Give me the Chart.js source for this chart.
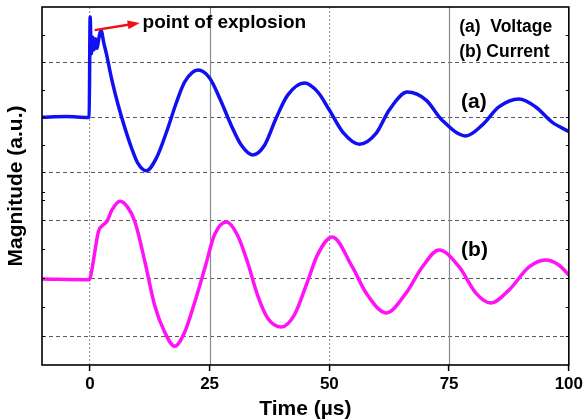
<!DOCTYPE html>
<html>
<head>
<meta charset="utf-8">
<script src="https://cdn.jsdelivr.net/npm/chart.js@4/dist/chart.umd.min.js"></script>
<style>
  html, body { margin: 0; padding: 0; background: #fff; }
  #wrap { width: 586px; height: 420px; }
</style>
</head>
<body>
<div id="wrap"><canvas id="chart"></canvas></div>
<script>
// time axis (µs) and trace values (a.u.)
const timeA = [-10, -5, -0.4, -0.15, 0.05, 0.3, 0.6, 0.9, 1.2, 1.5, 1.8, 2.3, 2.9, 3.5, 4.5, 5.9, 7.3, 8.7, 10.0, 11.8,
  13.9, 16.0, 18.1, 19.8, 22.6, 25.0, 27.1, 29.5, 31.6, 34.0, 36.5, 38.9, 41.3, 44.8, 47.6, 50.0, 52.8, 56.3,
  59.8, 62.5, 66.3, 70.2, 73.5, 78.5, 81.9, 85.4, 89.6, 93.1, 96.5, 100];
const voltage = [90.0, 90.2, 89.9, 90.0, 126.4, 113, 119, 114.5, 118.5, 115, 118, 121.6, 117, 112.6, 104.2, 94.4, 86.1, 78.8, 73.3, 70.5,
  75.2, 84.6, 95.5, 102.8, 107.1, 104.2, 96.9, 87.1, 79.9, 76.3, 79.9, 89.7, 98.0, 102.4, 99.1, 92.6, 84.6, 80.2,
  84.2, 92.6, 99.1, 96.2, 89.0, 83.2, 87.1, 93.7, 96.6, 93.7, 88.2, 84.8];

const timeB = [-10, -0.1, 0.3, 1.8, 2.6, 3.6, 4.6, 6.3, 7.8, 9.4, 11.5, 13.5, 15.6, 17.7, 19.8, 21.9, 24.0, 26.0,
  28.5, 30.8, 32.9, 35.0, 37.1, 40.0, 42.7, 45.4, 47.5, 50.6, 54.8, 57.7, 61.9, 66.0, 69.4, 72.9, 77.1, 80.6,
  83.7, 87.5, 91.7, 95.2, 97.9, 100];
const current = [31.2, 31.0, 33.5, 48.6, 50.6, 52.3, 56.3, 59.5, 57.5, 52.0, 37.4, 21.8, 12.0, 6.8, 12.0, 22.9, 35.2, 47.2,
  51.9, 47.2, 37.4, 25.4, 17.1, 13.8, 18.2, 30.1, 39.9, 46.5, 35.6, 26.1, 18.9, 26.1, 35.6, 41.8, 35.6, 26.1,
  22.5, 27.2, 35.6, 38.1, 36.3, 32.7];

const xTicks = [0, 25, 50, 75, 100];
const xSolid = [25, 75];
const yTicks = [10.5, 21, 31.5, 42, 52.5, 60, 63, 70, 80, 90, 100, 110, 120];
const yGrid  = [10.5, 31.5, 52.5, 70, 90, 110];

const FONT = '"Liberation Sans", Arial, sans-serif';
const toPts = (xs, ys) => xs.map((t, i) => ({ x: t, y: ys[i] }));

const overlay = {
  id: 'overlay',
  beforeDatasetsDraw(chart) {
    const { ctx, chartArea: a, scales: { x } } = chart;
    ctx.save();
    ctx.strokeStyle = '#8a8a8a';
    ctx.lineWidth = 1.2;
    xSolid.forEach(v => {
      const px = Math.round(x.getPixelForValue(v)) + 0.5;
      ctx.beginPath(); ctx.moveTo(px, a.top); ctx.lineTo(px, a.bottom); ctx.stroke();
    });
    ctx.restore();
  },
  afterDatasetsDraw(chart) {
    const { ctx, chartArea: a, scales: { x, y } } = chart;
    ctx.save();
    // frame
    ctx.strokeStyle = '#000';
    ctx.lineWidth = 1.6;
    ctx.strokeRect(a.left, a.top, a.right - a.left, a.bottom - a.top);
    // small inward ticks on left / right
    ctx.lineWidth = 1;
    yTicks.forEach(v => {
      const py = Math.round(y.getPixelForValue(v)) + 0.5;
      ctx.beginPath();
      ctx.moveTo(a.left, py); ctx.lineTo(a.left + 3, py);
      ctx.moveTo(a.right, py); ctx.lineTo(a.right - 3, py);
      ctx.stroke();
    });

    // arrow to the explosion point
    const x0 = x.getPixelForValue(1.0), y0 = y.getPixelForValue(121.6);
    const x1 = x.getPixelForValue(10.4), y1 = y.getPixelForValue(124.2);
    const ang = Math.atan2(y1 - y0, x1 - x0);
    ctx.strokeStyle = '#ee1111';
    ctx.fillStyle = '#ee1111';
    ctx.lineWidth = 2.5;
    ctx.beginPath(); ctx.moveTo(x0, y0);
    ctx.lineTo(x1 - 10 * Math.cos(ang), y1 - 10 * Math.sin(ang)); ctx.stroke();
    ctx.beginPath();
    ctx.moveTo(x1, y1);
    ctx.lineTo(x1 - 12 * Math.cos(ang) + 4.5 * Math.sin(ang), y1 - 12 * Math.sin(ang) - 4.5 * Math.cos(ang));
    ctx.lineTo(x1 - 12 * Math.cos(ang) - 4.5 * Math.sin(ang), y1 - 12 * Math.sin(ang) + 4.5 * Math.cos(ang));
    ctx.closePath(); ctx.fill();

    // texts
    ctx.fillStyle = '#000';
    ctx.textAlign = 'left';
    ctx.textBaseline = 'alphabetic';
    const put = (txt, t, v, size) => {
      ctx.font = `bold ${size}px ${FONT}`;
      ctx.fillText(txt, x.getPixelForValue(t), y.getPixelForValue(v));
    };
    put('point of explosion', 11.0, 122.4, 19);
    put('(a)  Voltage', 77.1, 120.9, 17.5);
    put('(b) Current', 77.1, 112.0, 17.5);
    put('(a)', 77.5, 93.3, 21);
    put('(b)', 77.5, 39.6, 21);
    ctx.restore();
  }
};

new Chart(document.getElementById('chart'), {
  type: 'line',
  data: {
    datasets: [
      { label: 'Voltage', data: toPts(timeA, voltage), borderColor: '#1010f0', borderWidth: 3.5,
        pointRadius: 0, cubicInterpolationMode: 'monotone', fill: false },
      { label: 'Current', data: toPts(timeB, current), borderColor: '#ff12f5', borderWidth: 3.5,
        pointRadius: 0, cubicInterpolationMode: 'monotone', fill: false }
    ]
  },
  options: {
    responsive: true, maintainAspectRatio: false, animation: false,
    layout: { padding: { top: 7, right: 16, left: 0, bottom: 0 } },
    plugins: { legend: { display: false }, tooltip: { enabled: false } },
    scales: {
      x: {
        type: 'linear', min: -10, max: 100,
        afterBuildTicks: s => { s.ticks = xTicks.map(v => ({ value: v })); },
        afterFit: s => { s.height = 55; },
        grid: {
          color: c => (c.tick && (c.tick.value === 0 || c.tick.value === 50)) ? '#9a9a9a' : 'rgba(0,0,0,0)',
          lineWidth: 1.2, tickLength: 6, tickColor: '#000', tickWidth: 1.5
        },
        border: { display: false, dash: [2, 2] },
        ticks: { color: '#000', font: { family: FONT, size: 17, weight: 'bold' }, padding: 3, maxRotation: 0 },
        title: { display: true, text: 'Time (µs)', color: '#000',
                 font: { family: FONT, size: 21, weight: 'bold', lineHeight: 1 }, padding: { top: 0, bottom: 0 } }
      },
      y: {
        type: 'linear', min: 0, max: 130,
        afterBuildTicks: s => { s.ticks = yTicks.map(v => ({ value: v })); },
        afterFit: s => { s.width = 42; },
        grid: {
          color: c => (c.tick && yGrid.includes(c.tick.value)) ? '#5a5a5a' : 'rgba(0,0,0,0)',
          lineWidth: 1.1, drawTicks: false
        },
        border: { display: false, dash: [4, 3] },
        ticks: { display: false },
        title: { display: true, text: 'Magnitude (a.u.)', color: '#000',
                 font: { family: FONT, size: 21, weight: 'bold', lineHeight: 1 }, padding: { top: 6, bottom: 0 } }
      }
    }
  },
  plugins: [overlay]
});
</script>
</body>
</html>
